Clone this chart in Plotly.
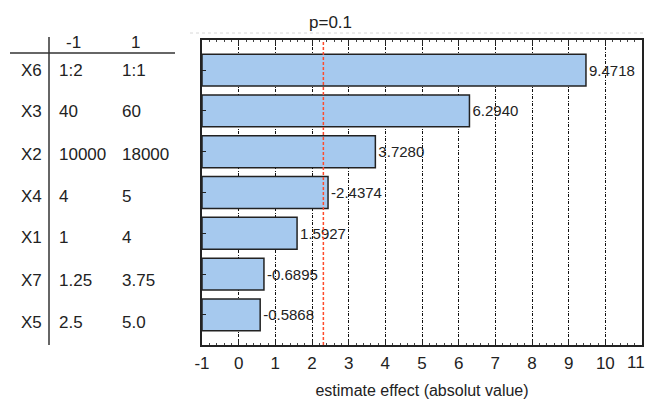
import plotly.graph_objects as go

# ---- data ----
factors = ["X6", "X3", "X2", "X4", "X1", "X7", "X5"]
effects = [9.4718, 6.2940, 3.7280, -2.4374, 1.5927, -0.6895, -0.5868]
level_low = ["1:2", "40", "10000", "4", "1", "1.25", "2.5"]
level_high = ["1:1", "60", "18000", "5", "4", "3.75", "5.0"]
level_headers = ["-1", "1"]
x_ticks = list(range(-1, 12))
x_tick_text = [str(v) for v in x_ticks]
p_label = "p=0.1"
p_threshold = 2.31
axis_min = -1
axis_max = 11

FONT = "Liberation Sans, Arial, sans-serif"
TXT = "#222222"

W, H = 649, 399
PL, PR, PT, PB = 202, 642, 40, 345   # plot area in page pixels
L, R, T, B = PL, W - PR, PT, H - PB
PW = PR - PL
PH = PB - PT


def px(xpix):
    return (xpix - PL) / PW


def py(ypix):
    return (PB - ypix) / PH


bar_len = [abs(v) - axis_min for v in effects]
labels = [f"{v:.4f}" for v in effects]
yr = [len(factors) - 1 + 0.74, -0.74]
# last tick label is drawn separately, nudged inward so it stays inside the page
tick_text_display = x_tick_text[:-1] + [""]

fig = go.Figure()
fig.add_trace(go.Bar(
    y=factors, x=bar_len, base=axis_min, orientation="h", width=0.78,
    marker=dict(color="#a6c9ee", line=dict(color="#222222", width=1.5)),
    text=labels, textposition="outside", cliponaxis=False,
    textfont=dict(family=FONT, size=15, color=TXT),
    hoverinfo="skip",
))

fig.update_layout(
    width=W, height=H,
    margin=dict(l=L, r=R, t=T, b=B, autoexpand=False),
    paper_bgcolor="white", plot_bgcolor="white",
    showlegend=False,
    font=dict(family=FONT, size=16, color=TXT),
    xaxis=dict(
        range=[axis_min, axis_max], tickvals=x_ticks, ticktext=tick_text_display,
        ticks="inside", ticklen=5, tickcolor="#222", mirror="allticks",
        showline=True, linecolor="#222", linewidth=1.5, automargin=False,
        showgrid=True, gridcolor="#111", griddash="3px,1.5px,1px,1.5px", gridwidth=1,
        zeroline=False, ticklabeloverflow="allow", ticklabelstandoff=2,
        minor=dict(dtick=0.2, ticks="inside", ticklen=2, tickcolor="#444", showgrid=False),
        tickfont=dict(size=17, family=FONT, color=TXT),
        title=dict(text="estimate effect (absolut value)", font=dict(size=16, family=FONT, color=TXT), standoff=15),
    ),
    yaxis=dict(
        range=yr, automargin=False,
        showticklabels=False, ticks="inside", ticklen=4, tickcolor="#222", mirror=True,
        showline=True, linecolor="#222", linewidth=1.5, showgrid=False, zeroline=False,
    ),
    yaxis2=dict(
        range=yr, overlaying="y", side="right", anchor="x", dtick=0.2, automargin=False,
        showticklabels=False, ticks="inside", ticklen=3, tickcolor="#333",
        showline=False, showgrid=False, zeroline=False,
    ),
)

fig.add_annotation(x=x_ticks[-1], y=py(362), xref="x", yref="paper", text=x_tick_text[-1],
                   showarrow=False, xshift=-6, xanchor="center", yanchor="middle",
                   font=dict(size=17, family=FONT, color=TXT))

# p threshold line
fig.add_shape(type="line", x0=p_threshold, x1=p_threshold, y0=0, y1=1, xref="x", yref="paper",
              line=dict(color="#ff4a2a", width=1.5, dash="3px,2px"), layer="above")
fig.add_annotation(x=p_threshold, y=py(22), xref="x", yref="paper", text=p_label, showarrow=False,
                   xshift=7, yanchor="middle", font=dict(size=17, family=FONT, color=TXT))
# faint dotted line above plot
fig.add_shape(type="line", x0=px(190), x1=px(646), y0=py(33), y1=py(33), xref="paper", yref="paper",
              line=dict(color="#d8d8d8", width=1, dash="dot"))

# table on the left
fig.add_shape(type="line", x0=px(49), x1=px(49), y0=py(37), y1=py(345), xref="paper", yref="paper",
              line=dict(color="#333", width=1.5))
fig.add_shape(type="line", x0=px(10), x1=px(175), y0=py(53), y1=py(53), xref="paper", yref="paper",
              line=dict(color="#333", width=1.5))
for hx, htxt in zip([73, 135], level_headers):
    fig.add_annotation(x=px(hx), y=py(42), xref="paper", yref="paper", text=htxt, showarrow=False,
                       xanchor="center", yanchor="middle", font=dict(size=17, family=FONT, color=TXT))
for i, f in enumerate(factors):
    yrow = py(70 + i * 42)
    fig.add_annotation(x=px(44), y=yrow, xref="paper", yref="paper", text=f, showarrow=False,
                       xanchor="right", yanchor="middle", font=dict(size=17, family=FONT, color=TXT))
    fig.add_annotation(x=px(57), y=yrow, xref="paper", yref="paper", text=level_low[i], showarrow=False,
                       xanchor="left", yanchor="middle", font=dict(size=17, family=FONT, color=TXT))
    fig.add_annotation(x=px(120), y=yrow, xref="paper", yref="paper", text=level_high[i], showarrow=False,
                       xanchor="left", yanchor="middle", font=dict(size=17, family=FONT, color=TXT))

fig.write_html("out.html", config={"displayModeBar": False},
               post_script="document.body.style.margin='0';")
